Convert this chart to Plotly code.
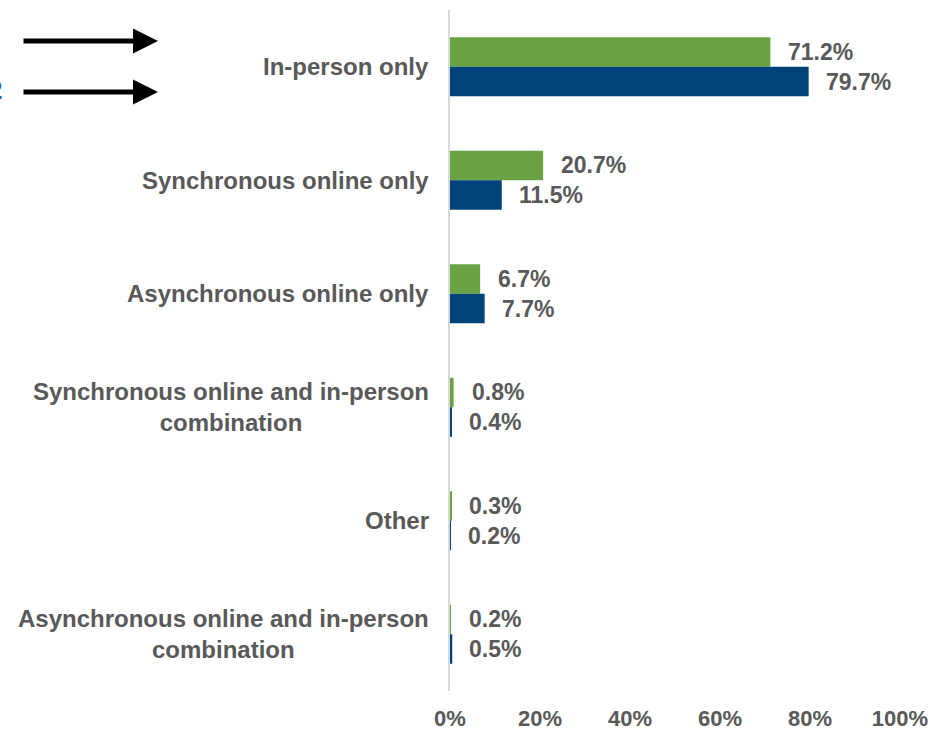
import plotly.graph_objects as go

categories = [
    "In-person only",
    "Synchronous online only",
    "Asynchronous online only",
    "Synchronous online and in-person<br>combination",
    "Other",
    "Asynchronous online and in-person<br>combination",
]
green_values = [71.2, 20.7, 6.7, 0.8, 0.3, 0.2]
blue_values = [79.7, 11.5, 7.7, 0.4, 0.2, 0.5]
tick_values = [0, 20, 40, 60, 80, 100]
tick_labels = ["0%", "20%", "40%", "60%", "80%", "100%"]

GREEN = "#6AA343"
BLUE = "#00427A"
GREY = "#595959"
FONT = "Liberation Sans, Arial, sans-serif"

W, H = 932, 731
ML, MR, MT, MB = 450, 32, 10, 40
PW, PH = W - ML - MR, H - MT - MB


def px_x(px):
    return (px - ML) / PW


def px_y(py):
    return (H - MB - py) / PH


fig = go.Figure()
fig.add_trace(go.Bar(y=categories, x=green_values, orientation="h",
                     marker=dict(color=GREEN, line=dict(width=0)), showlegend=False))
fig.add_trace(go.Bar(y=categories, x=blue_values, orientation="h",
                     marker=dict(color=BLUE, line=dict(width=0)), showlegend=False))

annotations = []
for cat in categories:
    annotations.append(dict(
        x=0, xref="paper", y=cat, yref="y", xanchor="right", yanchor="middle",
        xshift=-19, text="<b>%s</b>" % cat, showarrow=False, align="center",
        font=dict(family=FONT, size=24, color=GREY)))
for cat, g, b in zip(categories, green_values, blue_values):
    annotations.append(dict(
        x=g, y=cat, xref="x", yref="y", xanchor="left", yanchor="middle",
        xshift=16, yshift=15, text="<b>%.1f%%</b>" % g, showarrow=False,
        font=dict(family=FONT, size=23, color=GREY)))
    annotations.append(dict(
        x=b, y=cat, xref="x", yref="y", xanchor="left", yanchor="middle",
        xshift=15, yshift=-15, text="<b>%.1f%%</b>" % b, showarrow=False,
        font=dict(family=FONT, size=23, color=GREY)))

# arrows at top-left
for ypx in [41, 92]:
    annotations.append(dict(
        x=px_x(158), y=px_y(ypx), xref="paper", yref="paper",
        ax=-136, ay=0, axref="pixel", ayref="pixel",
        showarrow=True, arrowhead=2, arrowsize=1.0, arrowwidth=5,
        arrowcolor="black", text=""))
# partial cropped text at left edge
annotations.append(dict(
    x=px_x(4), y=px_y(90), xref="paper", yref="paper", xanchor="right",
    yanchor="middle", text="<b>2</b>", showarrow=False,
    font=dict(family=FONT, size=26, color="#1F64A8")))

fig.update_layout(
    width=W, height=H,
    margin=dict(l=ML, r=MR, t=MT, b=MB),
    paper_bgcolor="white", plot_bgcolor="white",
    barmode="group", bargap=0.48, bargroupgap=0,
    annotations=annotations,
    xaxis=dict(range=[0, 100], tickvals=tick_values, ticktext=tick_labels,
               showgrid=False, zeroline=False, showline=False,
               tickfont=dict(family=FONT, size=22, color=GREY, weight="bold"),
               ticklabelstandoff=12, fixedrange=True, automargin=False),
    yaxis=dict(autorange="reversed", showticklabels=False, showgrid=False,
               showline=True, linecolor="#D9D9D9", linewidth=2, zeroline=False,
               ticks="", fixedrange=True, automargin=False),
)

fig.write_html("out.html", config={"displayModeBar": False},
               post_script="document.body.style.margin='0';")
